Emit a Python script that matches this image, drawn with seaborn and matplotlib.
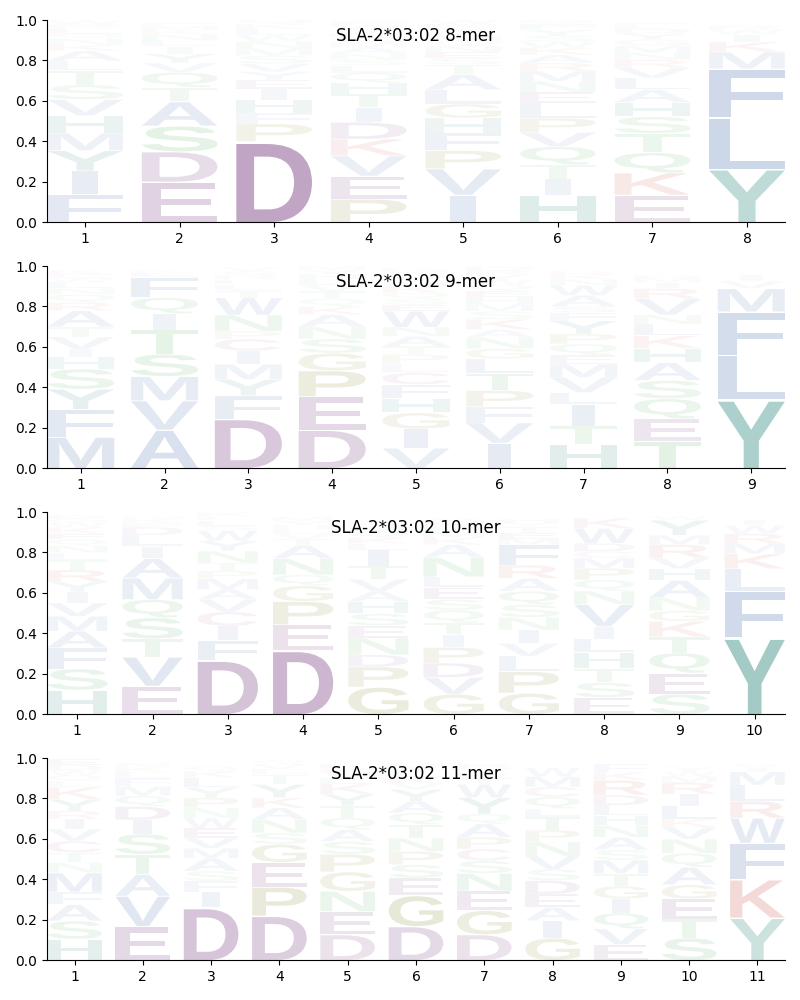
import numpy as np
import matplotlib
matplotlib.use("Agg")
import matplotlib.pyplot as plt
import seaborn as sns
from matplotlib.textpath import TextPath
from matplotlib.patches import PathPatch
from matplotlib.font_manager import FontProperties
from matplotlib.transforms import Affine2D

# ---------------- data (letters listed bottom -> top, with frequencies) -------------
titles = ["SLA-2*03:02 8-mer", "SLA-2*03:02 9-mer", "SLA-2*03:02 10-mer", "SLA-2*03:02 11-mer"]

mer8_letters = ["FIYMHVSTLAKNQERW", "EDSATQVYILNKMF", "DPFHIEYVSMNWLKQ",
                "PEVKDITHQLSNAMGRYWF", "IVPFHGLATSENQMKYRW", "HITQVPLENMRAKWSYFG",
                "EKQTSHALVRNMGYDF", "YLFMKIWR"]
mer8_heights = [[.14, .115, .10, .087, .086, .08, .072, .072, .046, .05, .03, .03, .025, .025, .02, .02],
                [.2, .15, .127, .12, .07, .075, .046, .046, .036, .03, .03, .02, .02, .015],
                [.40, .087, .053, .066, .054, .045, .04, .04, .04, .035, .035, .03, .03, .025, .025],
                [.115, .114, .10, .083, .083, .074, .066, .055, .05, .035, .03, .03, .03, .025, .025, .02, .02, .02, .02],
                [.135, .13, .09, .087, .074, .07, .07, .075, .05, .03, .03, .03, .025, .025, .02, .02, .02, .02],
                [.135, .08, .07, .09, .07, .07, .075, .053, .055, .05, .04, .04, .035, .03, .03, .03, .03, .02],
                [.135, .11, .10, .095, .083, .07, .063, .058, .05, .04, .035, .035, .03, .03, .025, .025],
                [.264, .256, .24, .083, .05, .035, .025, .02]]

mer9_letters = ["MFYSHIVTARQNLWEK", "AVMSTIQFLK", "DFYMICPNWTLERSV", "DEPGSNAKQTVLHYM",
                "VIGHFCLPTANWESQKMYRD", "IVFPTLGNAKSMHEQWYRD", "HTILVMEQPYFSAWNKR",
                "TEQSAHKLNVRIMD", "YLFMVI"]
mer9_heights = [[.155, .137, .10, .10, .058, .04, .06, .05, .08, .04, .04, .03, .03, .02, .02, .02],
                [.19, .145, .12, .11, .12, .08, .08, .10, .02, .015],
                [.245, .115, .08, .075, .066, .058, .04, .08, .085, .035, .03, .025, .02, .02, .02],
                [.19, .165, .128, .087, .07, .06, .06, .04, .04, .035, .03, .03, .025, .02, .02],
                [.10, .095, .08, .07, .07, .058, .045, .045, .04, .05, .045, .08, .03, .03, .03, .03, .025, .025, .02, .02],
                [.125, .10, .08, .08, .085, .072, .05, .055, .04, .05, .04, .035, .035, .03, .03, .025, .025, .02, .02],
                [.12, .09, .105, .06, .075, .065, .045, .055, .05, .065, .04, .03, .055, .05, .03, .02, .02],
                [.135, .11, .10, .09, .088, .07, .063, .058, .045, .08, .05, .03, .02, .015],
                [.34, .22, .215, .115, .036, .03]]

mer10_letters = ["HSFAMVIYRTLNQEKWGD", "EVTSQMAILDFKN", "DFICVAMPTNYWSELK", "DEPGQNATVLHYM",
                 "GPDNESHAVTILKQMF", "GVDPITQSELNAKMFHY", "GPLVINSQARFMETYH",
                 "ESTHLIVNQPMCDWK", "SEQTKGNAHVRMYW", "YFLKMRWI"]
mer10_heights = [[.12, .105, .104, .083, .073, .066, .055, .05, .058, .05, .035, .035, .03, .03, .03, .025, .02, .015],
                 [.14, .144, .09, .104, .09, .107, .096, .06, .055, .04, .02, .02, .015],
                 [.267, .10, .07, .07, .06, .05, .053, .04, .04, .058, .05, .05, .025, .025, .02, .02],
                 [.317, .127, .115, .078, .053, .08, .066, .03, .025, .025, .02, .02, .02],
                 [.135, .10, .06, .083, .06, .06, .06, .05, .06, .066, .08, .03, .03, .03, .025, .025],
                 [.10, .083, .07, .078, .063, .058, .063, .053, .06, .053, .095, .063, .035, .03, .025, .02, .02],
                 [.105, .107, .076, .063, .066, .063, .063, .066, .063, .066, .10, .03, .03, .03, .02, .02],
                 [.083, .074, .07, .08, .066, .061, .11, .066, .055, .058, .05, .033, .04, .074, .05],
                 [.10, .104, .10, .08, .076, .053, .063, .087, .058, .053, .066, .046, .074, .02],
                 [.38, .23, .11, .074, .05, .05, .04, .025]]

mer11_letters = ["HSAFMNTCVIRYKLQWDE", "EVATSIDQMFLKN", "DIFSAMVEWNPYLKQ", "DPEGSNAKYTLVQ",
                 "DENGPSAQTYKLVRF", "DGESPNTQAYVKLIH", "DGENSCPAQYWTKVR",
                 "GIAEDSVNPTLQCMW", "EVQIGTMSANHLDRKF", "STEGAQNVKLIRMWY", "YKFWRLMIV"]
mer11_heights = [[.105, .09, .08, .063, .095, .05, .05, .058, .058, .05, .04, .058, .058, .03, .03, .025, .025, .03],
                 [.168, .15, .107, .10, .10, .07, .066, .053, .046, .04, .03, .025, .02],
                 [.26, .078, .053, .05, .063, .05, .05, .05, .05, .05, .05, .05, .05, .03, .025],
                 [.22, .143, .122, .09, .055, .066, .058, .05, .066, .05, .025, .025, .02],
                 [.127, .115, .10, .096, .087, .063, .058, .058, .06, .058, .05, .03, .03, .02, .02],
                 [.168, .153, .086, .066, .066, .066, .066, .058, .058, .058, .03, .03, .03, .02, .02],
                 [.127, .12, .096, .087, .063, .058, .058, .066, .05, .08, .066, .03, .025, .025, .02],
                 [.11, .086, .066, .066, .066, .056, .066, .07, .058, .066, .04, .058, .05, .05, .045],
                 [.078, .078, .078, .07, .063, .063, .066, .05, .063, .058, .05, .05, .05, .074, .04, .04],
                 [.11, .094, .10, .07, .086, .07, .07, .058, .04, .066, .058, .058, .03, .025, .02],
                 [.21, .19, .18, .124, .083, .08, .066, .02, .015]]

panels = [(mer8_letters, mer8_heights), (mer9_letters, mer9_heights),
          (mer10_letters, mer10_heights), (mer11_letters, mer11_heights)]

# ---------------- style ----------------
aa_colors = {}
for c in "AVLIMFW":
    aa_colors[c] = "#3a62a5"
for c in "YH":
    aa_colors[c] = "#0e7667"
for c in "DE":
    aa_colors[c] = "#641e6e"
for c in "KR":
    aa_colors[c] = "#c0392b"
for c in "STNQ":
    aa_colors[c] = "#32a03c"
for c in "PG":
    aa_colors[c] = "#6e6e0a"
aa_colors["C"] = "#a03c78"

sns.set_style("ticks", {"axes.edgecolor": "black", "xtick.color": "black",
                        "ytick.color": "black", "text.color": "black"})
plt.rcParams["font.family"] = ["DejaVu Sans"]

FP = FontProperties(family="Liberation Sans", weight="bold")
_glyphs = {}
MIN_GLYPH_W = 0.42  # narrow glyphs (like I) are not stretched to the full slot width
V_FILL = 0.965      # small white gap between stacked letters


def glyph(ch):
    if ch not in _glyphs:
        tp = TextPath((0, 0), ch, size=1, prop=FP)
        _glyphs[ch] = (tp, tp.get_extents())
    return _glyphs[ch]


def draw_letter(ax, ch, x, y0, w, h):
    tp, bb = glyph(ch)
    gw = max(bb.width, MIN_GLYPH_W)
    cx = (bb.x0 + bb.x1) / 2
    t = (Affine2D().translate(-cx, -bb.y0)
         .scale(w / gw, h * V_FILL / bb.height)
         .translate(x, y0))
    path = t.transform_path(tp)
    ax.add_patch(PathPatch(path, facecolor=aa_colors[ch], edgecolor="none",
                           alpha=float(min(1.0, h)), lw=0))


fig = plt.figure(figsize=(8, 10), dpi=100)
bottoms = [0.778, 0.532, 0.286, 0.040]
for (letters, heights), title, b in zip(panels, titles, bottoms):
    ax = fig.add_axes([0.059, b, 0.922, 0.202])
    n = len(letters)
    for i, (lets, hs) in enumerate(zip(letters, heights)):
        y = 0.0
        for ch, h in zip(lets, hs):
            draw_letter(ax, ch, i + 1, y, 0.8, h)
            y += h
    ax.set_xlim(0.6, n + 0.4)
    ax.set_ylim(0, 1)
    ax.set_xticks(np.arange(1, n + 1))
    ax.set_yticks([0, 0.2, 0.4, 0.6, 0.8, 1.0])
    ax.set_yticklabels(["0.0", "0.2", "0.4", "0.6", "0.8", "1.0"])
    ax.tick_params(labelsize=10, length=3.5, width=0.8)
    ax.text(0.5, 0.92, title, transform=ax.transAxes, ha="center", va="center",
            fontsize=12, zorder=10)
    sns.despine(ax=ax)

fig.savefig("out.png", dpi=100)
